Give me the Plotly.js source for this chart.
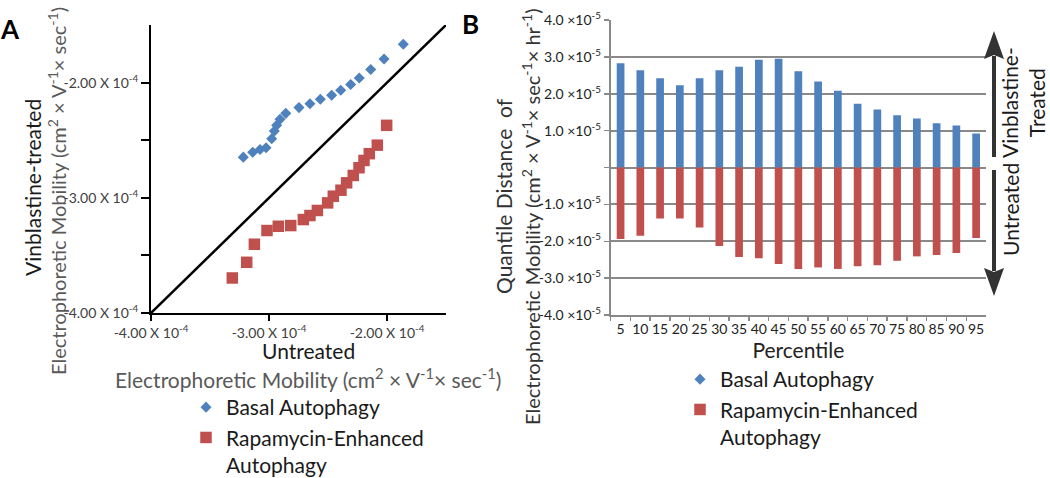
<!DOCTYPE html>
<html>
<head>
<meta charset="utf-8">
<script src="https://cdn.plot.ly/plotly-3.0.1.min.js"></script>
<style>
  html, body { margin: 0; padding: 0; background: #ffffff; }
  #chart { width: 1050px; height: 478px; }
</style>
</head>
<body>
<div id="chart"></div>
<script>
// ---------- Panel A: Q-Q plot (values in units of 1e-4 cm^2 V^-1 s^-1) ----------
const basalUntreated    = [-3.218, -3.138, -3.076, -3.025, -2.977, -2.955, -2.935, -2.907, -2.858, -2.746, -2.653, -2.565, -2.469, -2.392, -2.308, -2.235, -2.138, -2.025, -1.862];
const basalVinblastine  = [-2.647, -2.604, -2.580, -2.565, -2.487, -2.421, -2.371, -2.319, -2.267, -2.217, -2.183, -2.145, -2.110, -2.067, -2.017, -1.960, -1.887, -1.795, -1.667];
const rapaUntreated     = [-3.311, -3.189, -3.124, -3.017, -2.921, -2.816, -2.709, -2.653, -2.590, -2.503, -2.455, -2.390, -2.342, -2.286, -2.237, -2.195, -2.150, -2.082, -2.003];
const rapaVinblastine   = [-3.696, -3.560, -3.403, -3.284, -3.247, -3.241, -3.189, -3.154, -3.110, -3.044, -2.986, -2.934, -2.870, -2.806, -2.739, -2.676, -2.617, -2.543, -2.371];
const identityLine      = [-4.0, -1.5];
const aTickVals         = [-4, -3.5, -3, -2.5, -2];
const aYTickText        = ['-4.00 X 10<sup>-4</sup>', '', '-3.00 X 10<sup>-4</sup>', '', '-2.00 X 10<sup>-4</sup>'];
const aXTickVals        = [-4, -3, -2];
const aXTickText        = ['-4.00 X 10<sup>-4</sup>', '-3.00 X 10<sup>-4</sup>', '-2.00 X 10<sup>-4</sup>'];

// ---------- Panel B: quantile distance per percentile (units of 1e-5 cm^2 V^-1 s^-1 hr^-1) ----------
const percentiles       = ['5','10','15','20','25','30','35','40','45','50','55','60','65','70','75','80','85','90','95'];
const basalDistance     = [2.83, 2.64, 2.42, 2.23, 2.42, 2.64, 2.73, 2.92, 2.95, 2.61, 2.33, 2.08, 1.73, 1.57, 1.42, 1.33, 1.20, 1.14, 0.92];
const rapaDistance      = [-1.94, -1.85, -1.38, -1.38, -1.63, -2.13, -2.43, -2.46, -2.62, -2.75, -2.71, -2.75, -2.68, -2.65, -2.53, -2.41, -2.37, -2.32, -1.91];
const bTickVals         = [4, 3, 2, 1, 0, -1, -2, -3, -4];
const bTickText         = ['4.0 ×10<sup>-5</sup>', '3.0 ×10<sup>-5</sup>', '2.0 ×10<sup>-5</sup>', '1.0 ×10<sup>-5</sup>', '',
                           '-1.0 ×10<sup>-5</sup>', '-2.0 ×10<sup>-5</sup>', '-3.0 ×10<sup>-5</sup>', '-4.0 ×10<sup>-5</sup>'];

const seriesNames = ['Basal Autophagy', 'Rapamycin-Enhanced<br>Autophagy'];
const BLUE = '#4F81BD', RED = '#C0504D';
const FONT = 'Lato, "Open Sans", sans-serif';

const W = 1050, H = 478;
const px = v => v / W;
const py = v => 1 - v / H;

const traces = [
  { type: 'scatter', mode: 'lines', x: identityLine, y: identityLine, xaxis: 'x', yaxis: 'y',
    line: { color: '#000000', width: 2.5 }, showlegend: false, hoverinfo: 'skip' },
  { type: 'scatter', mode: 'markers', name: seriesNames[0], x: basalUntreated, y: basalVinblastine,
    xaxis: 'x', yaxis: 'y', legend: 'legend',
    marker: { symbol: 'diamond', size: 8.5, color: BLUE } },
  { type: 'scatter', mode: 'markers', name: seriesNames[1], x: rapaUntreated, y: rapaVinblastine,
    xaxis: 'x', yaxis: 'y', legend: 'legend',
    marker: { symbol: 'square', size: 11.5, color: RED } },
  { type: 'bar', name: seriesNames[0], x: percentiles, y: basalDistance, xaxis: 'x2', yaxis: 'y2',
    marker: { color: BLUE }, width: 0.39, showlegend: false },
  { type: 'bar', name: seriesNames[1], x: percentiles, y: rapaDistance, xaxis: 'x2', yaxis: 'y2',
    marker: { color: RED }, width: 0.39, showlegend: false },
  // legend-only entries for panel B (the original legend shows marker symbols)
  { type: 'scatter', mode: 'markers', name: seriesNames[0], x: [null], y: [null], xaxis: 'x2', yaxis: 'y2',
    legend: 'legend2', marker: { symbol: 'diamond', size: 8.5, color: BLUE }, hoverinfo: 'skip' },
  { type: 'scatter', mode: 'markers', name: seriesNames[1], x: [null], y: [null], xaxis: 'x2', yaxis: 'y2',
    legend: 'legend2', marker: { symbol: 'square', size: 11.5, color: RED }, hoverinfo: 'skip' }
];

const gridGray = '#898989';
const titleGray = '#595959';

function note(text, x, y, size, color, angle, bold) {
  return { text: bold ? '<b>' + text + '</b>' : text, x: px(x), y: py(y), xref: 'paper', yref: 'paper',
    xanchor: 'center', yanchor: 'middle', showarrow: false, textangle: angle || 0,
    font: { family: FONT, size: size, color: color } };
}

const layout = {
  width: W, height: H,
  margin: { l: 0, r: 0, t: 0, b: 0, autoexpand: false },
  paper_bgcolor: '#ffffff', plot_bgcolor: 'rgba(0,0,0,0)',
  font: { family: FONT, color: '#222222' },
  barmode: 'relative',
  xaxis: {
    domain: [px(151), px(446)], range: [-4, -1.5], anchor: 'y',
    showgrid: false, zeroline: false, showline: true, linecolor: '#000000', linewidth: 2,
    ticks: 'outside', ticklen: 6, tickwidth: 2, tickcolor: '#000000', tickangle: 0,
    tickvals: aXTickVals, ticktext: aXTickText,
    tickfont: { family: FONT, size: 14, color: '#404040' }
  },
  yaxis: {
    domain: [py(313), py(25)], range: [-4, -1.5], anchor: 'x',
    showgrid: false, zeroline: false, showline: true, linecolor: '#000000', linewidth: 2,
    ticks: 'outside', ticklen: 8, tickwidth: 2, tickcolor: '#000000',
    tickvals: aTickVals, ticktext: aYTickText,
    tickfont: { family: FONT, size: 14, color: '#404040' }
  },
  xaxis2: {
    domain: [px(610.7), px(986)], anchor: 'y2', type: 'category',
    showgrid: false, zeroline: false, showline: true, linecolor: gridGray, linewidth: 2,
    ticks: 'outside', tickson: 'boundaries', ticklen: 4, tickwidth: 1.5, tickcolor: gridGray, tickangle: 0,
    tickfont: { family: FONT, size: 14, color: '#222222' },
    title: { text: 'Percentile', font: { family: FONT, size: 21, color: '#222222' }, standoff: 6 }
  },
  yaxis2: {
    domain: [py(315), py(20)], range: [-4, 4], anchor: 'x2',
    showgrid: true, gridcolor: gridGray, gridwidth: 2, zeroline: false,
    showline: true, linecolor: gridGray, linewidth: 2,
    ticks: 'outside', ticklen: 5, tickwidth: 1.5, tickcolor: gridGray,
    tickvals: bTickVals, ticktext: bTickText,
    tickfont: { family: FONT, size: 14, color: '#222222' }
  },
  legend: {
    x: px(186), y: py(387), xanchor: 'left', yanchor: 'top',
    bgcolor: 'rgba(0,0,0,0)', borderwidth: 0, valign: 'top',
    font: { family: FONT, size: 21, color: '#1a1a1a' }, tracegroupgap: 0
  },
  legend2: {
    x: px(680), y: py(359), xanchor: 'left', yanchor: 'top',
    bgcolor: 'rgba(0,0,0,0)', borderwidth: 0, valign: 'top',
    font: { family: FONT, size: 21, color: '#1a1a1a' }, tracegroupgap: 0
  },
  annotations: [
    note('A', 10, 29, 26, '#000000', 0, true),
    note('B', 470, 24, 26, '#000000', 0, true),
    // Panel A axis titles
    note('Vinblastine-treated', 32, 188, 21, '#1a1a1a', -90),
    note('Electrophoretic Mobility (cm<sup>2</sup> × V<sup>-1</sup>× sec<sup>-1</sup>)', 57, 191, 20, titleGray, -90),
    note('Untreated', 308, 350, 21, '#1a1a1a'),
    note('Electrophoretic Mobility (cm<sup>2</sup> × V<sup>-1</sup>× sec<sup>-1</sup>)', 308, 378, 21, titleGray),
    // Panel B y-axis title
    note('Quantile Distance  of', 503, 196, 21, '#333333', -90),
    note('Electrophoretic Mobility (cm<sup>2</sup> × V<sup>-1</sup>× sec<sup>-1</sup>× hr<sup>-1</sup>)', 531, 217, 20, '#333333', -90),
    // Direction labels beside the arrows
    note('Vinblastine-<br>Treated', 1023, 103, 21, '#1a1a1a', -90),
    note('Untreated', 1010, 210, 21, '#1a1a1a', -90)
  ],
  shapes: [
    { type: 'line', xref: 'paper', yref: 'paper', x0: px(994), x1: px(994), y0: py(157), y1: py(56),
      line: { color: '#333333', width: 4 } },
    { type: 'path', xref: 'paper', yref: 'paper',
      path: `M ${px(994)},${py(31)} L ${px(1004)},${py(59)} L ${px(994)},${py(55)} L ${px(984)},${py(59)} Z`,
      fillcolor: '#333333', line: { width: 0 } },
    { type: 'line', xref: 'paper', yref: 'paper', x0: px(994), x1: px(994), y0: py(170), y1: py(271),
      line: { color: '#333333', width: 4 } },
    { type: 'path', xref: 'paper', yref: 'paper',
      path: `M ${px(994)},${py(296)} L ${px(1004)},${py(268)} L ${px(994)},${py(272)} L ${px(984)},${py(268)} Z`,
      fillcolor: '#333333', line: { width: 0 } }
  ]
};

Plotly.newPlot('chart', traces, layout, { displayModeBar: false, staticPlot: true });
</script>
</body>
</html>
